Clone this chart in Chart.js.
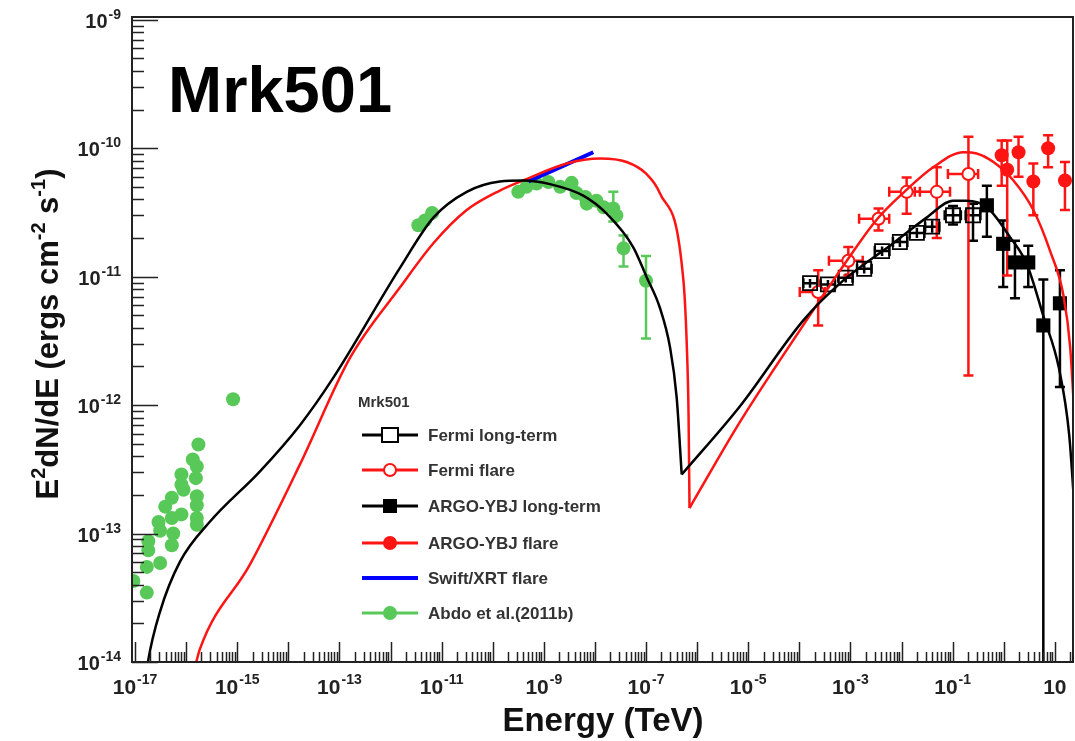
<!DOCTYPE html>
<html>
<head>
<meta charset="utf-8">
<title>Mrk501 SED</title>
<script src="https://cdn.jsdelivr.net/npm/chart.js@4.4.0/dist/chart.umd.min.js"></script>
<style>
  body { margin: 0; background: #fff; }
  #wrap { width: 1075px; height: 741px; }
</style>
</head>
<body>
<div id="wrap"><canvas id="sed" width="1075" height="741"></canvas></div>
<script>
/* ===== DATA (energy in TeV, E^2 dN/dE in erg cm^-2 s^-1) ===== */

// model curve, long-term state (black) - synchrotron part / IC part
const longModelE1 = [1.64e-17, 1.79e-17, 3.08e-17, 7.6e-17, 2.94e-16, 2.79e-15, 1.69e-14, 7.5e-14, 1.53e-12, 6.9e-12, 3.1e-11, 1.38e-10, 4.0e-10, 1.32e-9, 5.9e-9, 1.7e-8, 5.6e-8, 1.02e-7, 1.86e-7, 2.95e-7, 3.98e-7, 5.0e-7];
const longModelF1 = [7.6e-15, 1.0e-14, 2.46e-14, 6.04e-14, 1.24e-13, 3.05e-13, 6.98e-13, 1.62e-12, 1.17e-11, 2.88e-11, 4.57e-11, 5.5e-11, 5.6e-11, 5.25e-11, 4.27e-11, 3.09e-11, 1.7e-11, 1.0e-11, 5.75e-12, 2.82e-12, 1.15e-12, 2.88e-13];
const longModelE2 = [5.0e-7, 6.9e-6, 1.2e-4, 7.2e-4, 6.9e-3, 3.1e-2, 0.102, 0.186, 0.47, 1.32, 2.82, 6.0, 12.0, 19.1, 25.1];
const longModelF2 = [2.88e-13, 9.8e-13, 4.57e-12, 9.3e-12, 1.82e-11, 2.88e-11, 3.9e-11, 3.9e-11, 3.47e-11, 2.04e-11, 1.26e-11, 4.9e-12, 1.95e-12, 5.9e-13, 1.29e-13];

// model curve, flare state (red)
const flareModelE1 = [1.41e-16, 1.86e-16, 1.78e-15, 1.7e-14, 1.62e-13, 1.55e-12, 6.9e-12, 3.1e-11, 1.38e-10, 4.57e-10, 2.82e-9, 1.26e-8, 4.17e-8, 1.02e-7, 1.86e-7, 5.4e-7, 6.3e-7, 6.8e-7, 7.1e-7];
const flareModelF1 = [8.3e-15, 1.26e-14, 5.75e-14, 3.47e-13, 2.34e-12, 8.3e-12, 1.82e-11, 3.3e-11, 4.68e-11, 5.75e-11, 7.6e-11, 8.3e-11, 7.8e-11, 6.3e-11, 4.47e-11, 9.3e-12, 2.82e-12, 8.5e-13, 1.58e-13];
const flareModelE2 = [7.1e-7, 6.9e-6, 1.38e-4, 3.4e-4, 8.5e-4, 3.2e-3, 1.07e-2, 4.17e-2, 0.162, 0.295, 0.63, 1.55, 3.8, 8.1, 14.8, 20.0, 25.1];
const flareModelF2 = [1.58e-13, 7.4e-13, 4.57e-12, 7.8e-12, 1.33e-11, 2.75e-11, 4.47e-11, 7.1e-11, 9.3e-11, 9.1e-11, 7.8e-11, 5.6e-11, 3.3e-11, 1.58e-11, 7.1e-12, 2.82e-12, 6.3e-13];

// Swift/XRT flare (blue power law)
const swiftE = [5.0e-10, 9.3e-9];
const swiftF = [5.5e-11, 9.3e-11];

// Fermi long-term (open black squares)
const fermiLongE = [1.62e-4, 3.63e-4, 8.1e-4, 1.86e-3, 4.17e-3, 9.3e-3, 2.0e-2, 3.98e-2, 0.102, 0.251];
const fermiLongF = [8.9e-12, 8.7e-12, 9.8e-12, 1.15e-11, 1.58e-11, 1.86e-11, 2.19e-11, 2.45e-11, 3.0e-11, 3.0e-11];
const fermiLongElo = [1.2e-4, 2.6e-4, 5.8e-4, 1.35e-3, 3.0e-3, 6.8e-3, 1.45e-2, 2.9e-2, 7.0e-2, 0.18];
const fermiLongEhi = [2.3e-4, 5.0e-4, 1.1e-3, 2.6e-3, 5.8e-3, 1.3e-2, 2.8e-2, 5.5e-2, 0.145, 0.35];
const fermiLongFlo = [8.2e-12, 8.0e-12, 9.0e-12, 1.06e-11, 1.45e-11, 1.7e-11, 2.0e-11, 2.2e-11, 2.55e-11, 1.9e-11];
const fermiLongFhi = [9.6e-12, 9.4e-12, 1.06e-11, 1.25e-11, 1.72e-11, 2.03e-11, 2.4e-11, 2.75e-11, 3.55e-11, 3.7e-11];

// Fermi flare (open red circles)
const fermiFlareE = [2.34e-4, 9.1e-4, 3.55e-3, 1.26e-2, 4.9e-2, 0.204];
const fermiFlareF = [7.6e-12, 1.33e-11, 2.82e-11, 4.57e-11, 4.57e-11, 6.3e-11];
const fermiFlareElo = [1.02e-4, 3.8e-4, 1.48e-3, 5.75e-3, 1.82e-2, 8.1e-2];
const fermiFlareEhi = [3.2e-4, 1.74e-3, 5.75e-3, 2.29e-2, 8.9e-2, 0.316];
const fermiFlareFlo = [4.17e-12, 1.02e-11, 2.29e-11, 3.09e-11, 2.0e-11, 1.7e-12];
const fermiFlareFhi = [1.12e-11, 1.7e-11, 3.39e-11, 5.9e-11, 7.1e-11, 1.23e-10];

// ARGO-YBJ long-term (filled black squares)
const argoLongE = [0.468, 0.977, 1.66, 3.02, 5.96, 12.6];
const argoLongF = [3.59e-11, 1.8e-11, 1.29e-11, 1.29e-11, 4.17e-12, 6.2e-12];
const argoLongFlo = [2.04e-11, 8.3e-12, 6.8e-12, 8.3e-12, 5.0e-15, 1.38e-12];
const argoLongFhi = [5.1e-11, 2.74e-11, 1.9e-11, 1.74e-11, 9.5e-12, 1.12e-11];

// ARGO-YBJ flare (filled red circles)
const argoFlareE = [0.912, 1.17, 1.95, 3.8, 7.4, 15.8];
const argoFlareF = [8.8e-11, 6.8e-11, 9.3e-11, 5.5e-11, 1.0e-10, 5.6e-11];
const argoFlareFlo = [5.1e-11, 1.02e-11, 6.0e-11, 3.0e-11, 7.1e-11, 3.3e-11];
const argoFlareFhi = [1.15e-10, 1.15e-10, 1.23e-10, 7.6e-11, 1.26e-10, 7.8e-11];

// Abdo et al. (2011b) (green)
const abdoE = [8.3e-16, 1.74e-16, 1.35e-16, 1.62e-16, 8.1e-17, 1.55e-16, 8.1e-17, 8.9e-17, 5.25e-17, 1.62e-16, 3.9e-17, 1.62e-16, 8.1e-17, 2.88e-17, 1.62e-16, 1.62e-16, 5.25e-17, 3.1e-17, 5.6e-17, 1.82e-17, 5.25e-17, 1.82e-17, 3.1e-17, 1.7e-17, 9.3e-18, 1.7e-17,
  3.5e-12, 4.73e-12, 6.5e-12,
  3.16e-10, 4.57e-10, 7.2e-10, 1.23e-9, 2.09e-9, 3.5e-9, 4.37e-9, 6.5e-9, 6.9e-9, 1.07e-8, 1.48e-8, 2.29e-8, 2.63e-8, 3.63e-8, 1.0e-7];
const abdoF = [1.11e-12, 4.93e-13, 3.77e-13, 3.33e-13, 2.88e-13, 2.7e-13, 2.4e-13, 2.19e-13, 1.9e-13, 1.95e-13, 1.62e-13, 1.66e-13, 1.41e-13, 1.23e-13, 1.32e-13, 1.17e-13, 1.32e-13, 1.05e-13, 1.0e-13, 8.7e-14, 8.1e-14, 7.4e-14, 5.9e-14, 5.5e-14, 4.27e-14, 3.47e-14,
  2.51e-11, 2.74e-11, 3.13e-11,
  4.57e-11, 5.0e-11, 5.3e-11, 5.46e-11, 5.0e-11, 5.37e-11, 4.47e-11, 4.17e-11, 3.7e-11, 3.9e-11, 3.47e-11, 3.39e-11, 3.0e-11, 1.66e-11, 9.3e-12];
// error bars only on the highest-energy Abdo points
const abdoErrE = [2.29e-8, 3.63e-8, 1.0e-7];
const abdoErrLo = [2.69e-11, 1.2e-11, 3.3e-12];
const abdoErrHi = [4.57e-11, 2.09e-11, 1.45e-11];

// axis decades and labelled decades
const xDecades = [-17, -16, -15, -14, -13, -12, -11, -10, -9, -8, -7, -6, -5, -4, -3, -2, -1, 0, 1];
const xLabelExps = [-17, -15, -13, -11, -9, -7, -5, -3, -1, 1];
const yDecades = [-14, -13, -12, -11, -10, -9];

const GREEN = "#58c958";
const RED = "#ff1414";
const FONT = '"Liberation Sans", Arial, Helvetica, sans-serif';

function pts(xs, ys) {
  return xs.map((x, i) => ({ x: x, y: ys[i] }));
}

/* ===== ERROR BARS ===== */
const errorBars = {
  id: "errorBars",
  beforeDatasetsDraw(chart) {
    const ctx = chart.ctx;
    const xs = chart.scales.x, ys = chart.scales.y;
    const a = chart.chartArea;
    ctx.save();
    ctx.beginPath();
    ctx.rect(a.left, a.top, a.right - a.left, a.bottom - a.top);
    ctx.clip();
    chart.data.datasets.forEach(ds => {
      if (!ds.err) return;
      const e = ds.err;
      ctx.strokeStyle = ds.borderColor;
      ctx.lineWidth = 2.5;
      e.x.forEach((xv, i) => {
        const px = xs.getPixelForValue(xv);
        const py = ys.getPixelForValue(e.y[i]);
        const cap = 5;
        ctx.beginPath();
        if (e.ylo) {
          const y1 = ys.getPixelForValue(e.ylo[i]), y2 = ys.getPixelForValue(e.yhi[i]);
          ctx.moveTo(px, y1); ctx.lineTo(px, y2);
          // short bars hidden behind the marker get no caps
          if (y1 - y2 > 16) {
            ctx.moveTo(px - cap, y1); ctx.lineTo(px + cap, y1);
            ctx.moveTo(px - cap, y2); ctx.lineTo(px + cap, y2);
          }
        }
        if (e.xlo) {
          const x1 = xs.getPixelForValue(e.xlo[i]), x2 = xs.getPixelForValue(e.xhi[i]);
          ctx.moveTo(x1, py); ctx.lineTo(x2, py);
          ctx.moveTo(x1, py - cap); ctx.lineTo(x1, py + cap);
          ctx.moveTo(x2, py - cap); ctx.lineTo(x2, py + cap);
        }
        ctx.stroke();
      });
    });
    ctx.restore();
  }
};

/* ===== FRAME, TICKS, LABELS, LEGEND ===== */
function drawPow(ctx, exp, x, y, align, baseSize, supSize, rise) {
  const sup = exp === 1 ? "" : String(exp);
  ctx.font = "bold " + baseSize + "px " + FONT;
  const wb = ctx.measureText("10").width;
  ctx.font = "bold " + supSize + "px " + FONT;
  const ws = sup ? ctx.measureText(sup).width + 1 : 0;
  const x0 = align === "center" ? x - (wb + ws) / 2 : x - (wb + ws);
  ctx.textAlign = "left";
  ctx.font = "bold " + baseSize + "px " + FONT;
  ctx.fillText("10", x0, y);
  if (sup) {
    ctx.font = "bold " + supSize + "px " + FONT;
    ctx.fillText(sup, x0 + wb + 1, y - rise);
  }
}

function drawMarker(ctx, kind, x, y) {
  ctx.lineWidth = 2;
  if (kind === "openSquare") {
    ctx.fillStyle = "#fff"; ctx.strokeStyle = "#000";
    ctx.fillRect(x - 8, y - 7, 16, 14); ctx.strokeRect(x - 8, y - 7, 16, 14);
  } else if (kind === "square") {
    ctx.fillStyle = "#000"; ctx.fillRect(x - 7, y - 7, 14, 14);
  } else if (kind === "openCircle") {
    ctx.fillStyle = "#fff"; ctx.strokeStyle = RED;
    ctx.beginPath(); ctx.arc(x, y, 6, 0, Math.PI * 2); ctx.fill(); ctx.stroke();
  } else if (kind === "redDot") {
    ctx.fillStyle = RED; ctx.beginPath(); ctx.arc(x, y, 7, 0, Math.PI * 2); ctx.fill();
  } else if (kind === "greenDot") {
    ctx.fillStyle = GREEN; ctx.beginPath(); ctx.arc(x, y, 7, 0, Math.PI * 2); ctx.fill();
  }
}

const legendRows = [
  { label: "Fermi long-term", color: "#000", marker: "openSquare" },
  { label: "Fermi flare", color: RED, marker: "openCircle" },
  { label: "ARGO-YBJ long-term", color: "#000", marker: "square" },
  { label: "ARGO-YBJ flare", color: RED, marker: "redDot" },
  { label: "Swift/XRT flare", color: "#0000ff", marker: null },
  { label: "Abdo et al.(2011b)", color: GREEN, marker: "greenDot" }
];

const rootAxes = {
  id: "rootAxes",
  afterDraw(chart) {
    const ctx = chart.ctx;
    const xs = chart.scales.x, ys = chart.scales.y;
    const { left, right, top, bottom } = chart.chartArea;
    ctx.save();

    // frame
    ctx.strokeStyle = "#222";
    ctx.lineWidth = 2;
    ctx.strokeRect(left, top, right - left, bottom - top);

    // x ticks (inside, pointing up)
    ctx.lineWidth = 1.5;
    ctx.beginPath();
    xDecades.forEach(d => {
      for (let k = 1; k <= 9; k++) {
        const v = k * Math.pow(10, d);
        if (v < xs.min || v > xs.max) continue;
        const px = Math.round(xs.getPixelForValue(v)) + 0.5;
        const len = k === 1 ? 20 : 10;
        ctx.moveTo(px, bottom); ctx.lineTo(px, bottom - len);
      }
    });
    // y ticks (inside, pointing right)
    yDecades.forEach(d => {
      for (let k = 1; k <= 9; k++) {
        const v = k * Math.pow(10, d);
        if (v < ys.min || v > ys.max) continue;
        const py = Math.round(ys.getPixelForValue(v)) + 0.5;
        const len = k === 1 ? 26 : 12;
        ctx.moveTo(left, py); ctx.lineTo(left + len, py);
      }
    });
    ctx.stroke();

    // tick labels
    ctx.fillStyle = "#222";
    ctx.textBaseline = "alphabetic";
    xLabelExps.forEach(d => {
      const px = xs.getPixelForValue(Math.pow(10, d));
      drawPow(ctx, d, px, 694, "center", 21, 14, 10);
    });
    yDecades.forEach(d => {
      const py = ys.getPixelForValue(Math.pow(10, d));
      drawPow(ctx, d, 121, py + 8, "right", 20, 14, 9);
    });

    // axis titles
    ctx.fillStyle = "#111";
    ctx.textAlign = "center";
    ctx.font = "bold 33px " + FONT;
    ctx.fillText("Energy (TeV)", 603, 731);

    const parts = [["E", 0], ["2", 1], ["dN/dE (ergs cm", 0], ["-2", 1], [" s", 0], ["-1", 1], [")", 0]];
    ctx.save();
    ctx.translate(58, 334);
    ctx.rotate(-Math.PI / 2);
    let total = 0;
    parts.forEach(p => {
      ctx.font = "bold " + (p[1] ? 20 : 31) + "px " + FONT;
      total += ctx.measureText(p[0]).width;
    });
    let cx = -total / 2;
    ctx.textAlign = "left";
    parts.forEach(p => {
      ctx.font = "bold " + (p[1] ? 20 : 31) + "px " + FONT;
      ctx.fillText(p[0], cx, p[1] ? -13 : 0);
      cx += ctx.measureText(p[0]).width;
    });
    ctx.restore();

    // big source name
    ctx.fillStyle = "#000";
    ctx.textAlign = "left";
    ctx.font = "bold 65px " + FONT;
    ctx.fillText("Mrk501", 168, 112);

    // legend
    ctx.fillStyle = "#333";
    ctx.font = "bold 15px " + FONT;
    ctx.fillText("Mrk501", 358, 407);
    const rowY = [435, 470, 506, 543, 578, 613];
    legendRows.forEach((r, i) => {
      const y = rowY[i];
      ctx.strokeStyle = r.color;
      ctx.lineWidth = r.marker ? 3 : 4;
      ctx.beginPath(); ctx.moveTo(362, y); ctx.lineTo(418, y); ctx.stroke();
      if (r.marker) drawMarker(ctx, r.marker, 390, y);
      ctx.fillStyle = "#333";
      ctx.font = "bold 17px " + FONT;
      ctx.textAlign = "left";
      ctx.fillText(r.label, 428, y + 6);
    });

    ctx.restore();
  }
};

/* ===== CHART ===== */
function curve(xs, ys, color, width) {
  return {
    data: pts(xs, ys),
    showLine: true,
    borderColor: color,
    borderWidth: width,
    pointRadius: 0,
    cubicInterpolationMode: "monotone",
    fill: false
  };
}

const ctx = document.getElementById("sed");

new Chart(ctx, {
  type: "scatter",
  data: {
    datasets: [
      curve(longModelE1, longModelF1, "#000", 2.5),
      curve(longModelE2, longModelF2, "#000", 2.5),
      curve(flareModelE1, flareModelF1, RED, 2.5),
      curve(flareModelE2, flareModelF2, RED, 2.5),
      curve(swiftE, swiftF, "#0000ff", 4),
      {
        data: pts(fermiLongE, fermiLongF),
        pointStyle: "rect", pointRadius: 10,
        backgroundColor: "rgba(255,255,255,0)", borderColor: "#000", borderWidth: 1.8,
        err: { x: fermiLongE, y: fermiLongF, xlo: fermiLongElo, xhi: fermiLongEhi, ylo: fermiLongFlo, yhi: fermiLongFhi }
      },
      {
        data: pts(fermiFlareE, fermiFlareF),
        pointStyle: "circle", pointRadius: 6,
        backgroundColor: "#fff", borderColor: RED, borderWidth: 2,
        err: { x: fermiFlareE, y: fermiFlareF, xlo: fermiFlareElo, xhi: fermiFlareEhi, ylo: fermiFlareFlo, yhi: fermiFlareFhi }
      },
      {
        data: pts(argoLongE, argoLongF),
        pointStyle: "rect", pointRadius: 10,
        backgroundColor: "#000", borderColor: "#000", borderWidth: 0,
        err: { x: argoLongE, y: argoLongF, ylo: argoLongFlo, yhi: argoLongFhi }
      },
      {
        data: pts(argoFlareE, argoFlareF),
        pointStyle: "circle", pointRadius: 7,
        backgroundColor: RED, borderColor: RED, borderWidth: 0,
        err: { x: argoFlareE, y: argoFlareF, ylo: argoFlareFlo, yhi: argoFlareFhi }
      },
      {
        data: pts(abdoE, abdoF),
        pointStyle: "circle", pointRadius: 7,
        backgroundColor: GREEN, borderColor: GREEN, borderWidth: 0,
        err: { x: abdoErrE, y: abdoErrLo, ylo: abdoErrLo, yhi: abdoErrHi }
      }
    ]
  },
  options: {
    responsive: false,
    animation: false,
    layout: { autoPadding: false, padding: { left: 132, right: 2, top: 17, bottom: 79 } },
    plugins: { legend: { display: false }, tooltip: { enabled: false } },
    scales: {
      x: { type: "logarithmic", min: 8.73e-18, max: 22.7, display: false },
      y: { type: "logarithmic", min: 1e-14, max: 1.05e-9, display: false }
    }
  },
  plugins: [errorBars, rootAxes]
});
</script>
</body>
</html>
